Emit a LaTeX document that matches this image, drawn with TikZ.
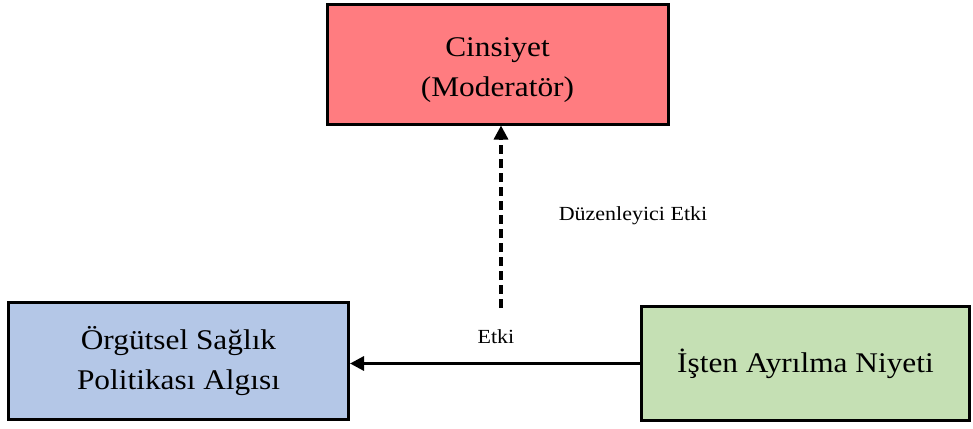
\documentclass[tikz,border=0pt]{standalone}
\usepackage{fontspec}
\setmainfont[FakeStretch=1.1]{Liberation Serif}
\usetikzlibrary{arrows.meta,shadows}
\definecolor{redfill}{HTML}{FF7C80}
\definecolor{bluefill}{HTML}{B4C7E7}
\definecolor{greenfill}{HTML}{C5E0B4}
\tikzset{
  box/.style={draw=black, line width=3pt, align=center, inner sep=0pt,
    font=\fontsize{28.5}{40}\selectfont,
    drop shadow={opacity=0.35, shadow xshift=1.5pt, shadow yshift=-1.5pt}},
  conn/.style={line width=3.2pt, -{Triangle[length=14pt,width=14pt]}},
  lbl/.style={font=\fontsize{20}{24}\selectfont, inner sep=0pt}
}
\begin{document}
\begin{tikzpicture}[x=1pt,y=-1pt]
\useasboundingbox (0,0) rectangle (973,428);
\node[box, fill=redfill, minimum width=341pt, minimum height=119pt] (cins) at (497.5,64.5) {\rule{0pt}{31pt}Cinsiyet\\(Moderatör)};
\node[box, fill=bluefill, minimum width=340pt, minimum height=117pt] (orgut) at (178.5,361) {Örgütsel Sağlık\\Politikası Algısı};
\node[box, fill=greenfill, minimum width=328pt, minimum height=114pt] (isten) at (805.5,363.5) {İşten Ayrılma Niyeti};
\coordinate (dstart) at (501,308);
\draw[conn, dash pattern=on 9pt off 5pt] (dstart) -- (cins.south -| dstart);
\draw[conn] (isten.west) -- (orgut.east |- isten.west);
\node[lbl] (duz) at (633,216) {Düzenleyici Etki};
\node[lbl] (etki) at (496,337) {Etki};
\end{tikzpicture}
\end{document}
